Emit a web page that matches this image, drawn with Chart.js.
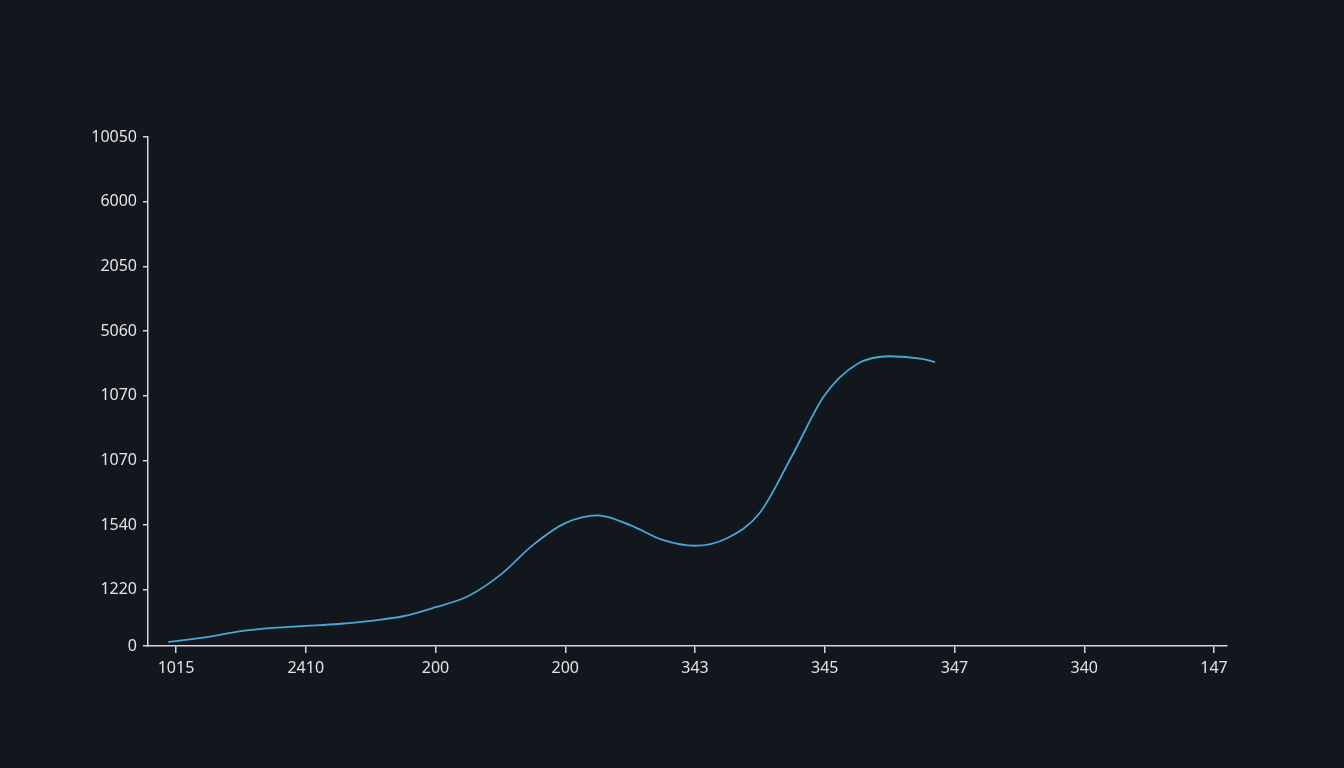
<!DOCTYPE html>
<html>
<head>
<meta charset="utf-8">
<script src="https://cdn.jsdelivr.net/npm/chart.js"></script>
<style>
    html, body { margin: 0; padding: 0; background: #12161d; }
    #wrap { width: 1344px; height: 768px; }
</style>
</head>
<body>
<div id="wrap"><canvas id="lineChart"></canvas></div>
<script>
// Tick labels as printed on the chart
const xLabels = ['1015', '2410', '200', '200', '343', '345', '347', '340', '147'];
const yLabels = ['0', '1220', '1540', '1070', '1070', '5060', '2050', '6000', '10050'];
const yTickPos = [0, 0.87, 1.87, 2.87, 3.87, 4.87, 5.87, 6.87, 7.87];

// Series, in tick units (x: label index, y: tick step)
const seriesX = [-0.06, 0.25, 0.5, 0.75, 1.0, 1.25, 1.5, 1.75, 2.0, 2.25, 2.5, 2.75, 3.0,
                 3.25, 3.5, 3.75, 4.0, 4.25, 4.5, 4.75, 5.0, 5.25, 5.5, 5.75, 5.85];
const seriesY = [0.06, 0.14, 0.23, 0.28, 0.31, 0.34, 0.39, 0.46, 0.60, 0.77, 1.10, 1.56, 1.90,
                 2.02, 1.87, 1.64, 1.55, 1.67, 2.06, 2.95, 3.88, 4.36, 4.48, 4.44, 4.39];

const axisColor = '#d4d7dc';
const tickFont = { family: '"Noto Sans", "DejaVu Sans", sans-serif', size: 16 };

document.addEventListener('DOMContentLoaded', function() {
    const ctx = document.getElementById('lineChart');
    const points = seriesX.map((x, i) => ({ x: x, y: seriesY[i] }));

    new Chart(ctx, {
        type: 'line',
        data: {
            datasets: [{
                data: points,
                borderColor: '#4aa6d6',
                borderWidth: 1.8,
                pointRadius: 0,
                fill: false,
                cubicInterpolationMode: 'monotone'
            }]
        },
        options: {
            responsive: true,
            maintainAspectRatio: false,
            animation: false,
            layout: { padding: { left: 0, right: 117, top: 137, bottom: 82 } },
            plugins: {
                legend: { display: false },
                tooltip: { enabled: false }
            },
            scales: {
                x: {
                    type: 'linear',
                    min: -0.216,
                    max: 8.1,
                    afterBuildTicks: scale => { scale.ticks = xLabels.map((_, i) => ({ value: i })); },
                    afterFit: scale => { scale.height = 40; },
                    border: { color: axisColor, width: 1.5 },
                    grid: { drawOnChartArea: false, color: axisColor, tickLength: 7, lineWidth: 1.5 },
                    ticks: {
                        color: '#e2e4e8',
                        font: tickFont,
                        padding: 6,
                        maxRotation: 0,
                        callback: (v) => xLabels[Math.round(v)]
                    }
                },
                y: {
                    type: 'linear',
                    min: 0,
                    max: 7.87,
                    afterBuildTicks: scale => { scale.ticks = yTickPos.map(v => ({ value: v })); },
                    afterFit: scale => { scale.width = 148; },
                    border: { color: axisColor, width: 1.5 },
                    grid: { drawOnChartArea: false, color: axisColor, tickLength: 5, lineWidth: 1.5 },
                    ticks: {
                        color: '#e2e4e8',
                        font: tickFont,
                        padding: 6,
                        callback: (v) => yLabels[yTickPos.indexOf(v)]
                    }
                }
            }
        }
    });
});
</script>
</body>
</html>
